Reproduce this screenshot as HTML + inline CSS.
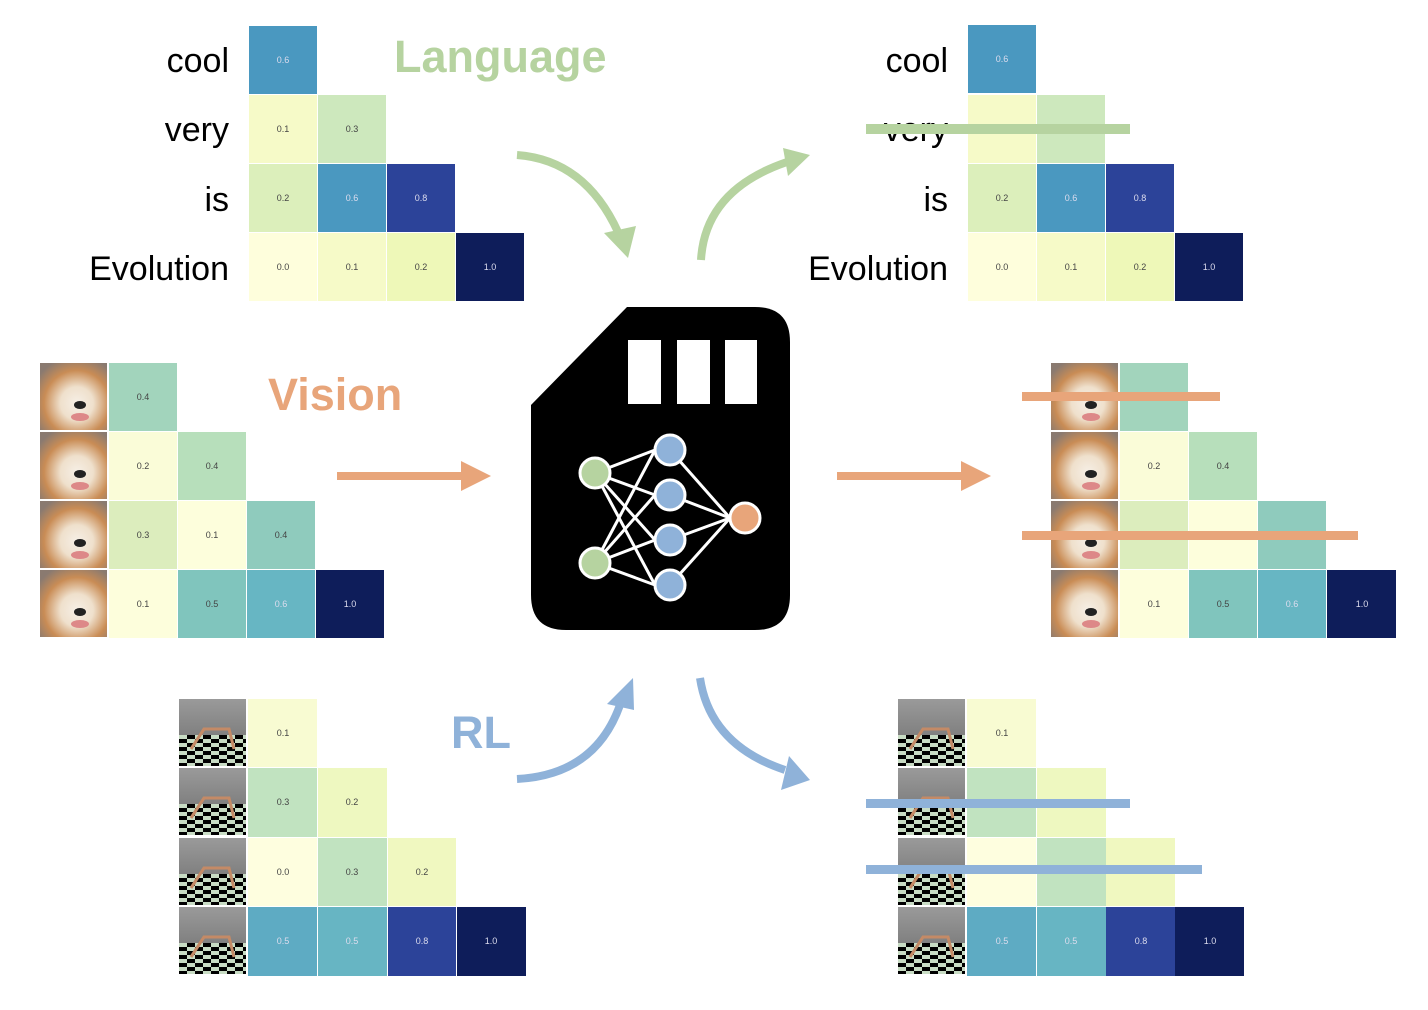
<!DOCTYPE html>
<html><head><meta charset="utf-8"><style>
html,body{margin:0;padding:0;background:#fff;width:1428px;height:1010px;overflow:hidden}
svg{display:block}
text{font-family:"Liberation Sans",sans-serif}
.v{font-size:9px;text-anchor:middle;dominant-baseline:central;fill:#444}
.w{font-size:9px;text-anchor:middle;dominant-baseline:central;fill:#dde}
.lab{font-size:34px;text-anchor:end;fill:#000}
</style></head><body>
<svg width="1428" height="1010" viewBox="0 0 1428 1010" xmlns="http://www.w3.org/2000/svg">
<defs>
<radialGradient id="dog" cx="0.55" cy="0.6" r="0.7">
<stop offset="0" stop-color="#f6efe6"/><stop offset="0.35" stop-color="#efe0cc"/><stop offset="0.7" stop-color="#c98c55"/><stop offset="1" stop-color="#8a7a70"/>
</radialGradient>
<pattern id="chk" width="16" height="8" patternUnits="userSpaceOnUse">
<rect width="16" height="8" fill="#c8dcc4"/><rect width="8" height="4" fill="#000"/><rect x="8" y="4" width="8" height="4" fill="#000"/>
</pattern>
<linearGradient id="sky" x1="0" y1="0" x2="0" y2="1"><stop offset="0" stop-color="#9a9a9a"/><stop offset="1" stop-color="#6a6a6a"/></linearGradient>
<g id="dogimg"><rect width="67" height="67" fill="url(#dog)"/><ellipse cx="40" cy="42" rx="6" ry="4" fill="#222"/><ellipse cx="40" cy="54" rx="9" ry="4" fill="#d88" /></g>
<g id="rlimg"><rect width="67" height="67" fill="url(#sky)"/><rect y="36" width="67" height="31" fill="url(#chk)"/><path d="M12 50 L25 30 L50 30 L55 50" stroke="#c48a66" stroke-width="3" fill="none"/></g>
</defs>

<!-- Language left -->
<g>
<text class="lab" x="229" y="72">cool</text>
<text class="lab" x="229" y="141">very</text>
<text class="lab" x="229" y="211">is</text>
<text class="lab" x="229" y="280">Evolution</text>
<rect x="249" y="26" width="68" height="68" fill="#4a98c0"/><text class="w" x="283" y="60">0.6</text>
<rect x="249" y="95" width="68" height="68" fill="#f6fac8"/><text class="v" x="283" y="129">0.1</text>
<rect x="318" y="95" width="68" height="68" fill="#cde8bd"/><text class="v" x="352" y="129">0.3</text>
<rect x="249" y="164" width="68" height="68" fill="#dcefbb"/><text class="v" x="283" y="198">0.2</text>
<rect x="318" y="164" width="68" height="68" fill="#4a98c0"/><text class="w" x="352" y="198">0.6</text>
<rect x="387" y="164" width="68" height="68" fill="#2c4399"/><text class="w" x="421" y="198">0.8</text>
<rect x="249" y="233" width="68" height="68" fill="#fefedc"/><text class="v" x="283" y="267">0.0</text>
<rect x="318" y="233" width="68" height="68" fill="#f6fac8"/><text class="v" x="352" y="267">0.1</text>
<rect x="387" y="233" width="68" height="68" fill="#eef8b8"/><text class="v" x="421" y="267">0.2</text>
<rect x="456" y="233" width="68" height="68" fill="#0e1d5a"/><text class="w" x="490" y="267">1.0</text>
</g>
<text x="394" y="72" font-size="45" font-weight="bold" fill="#b6d3a0">Language</text>

<!-- Language right -->
<g>
<text class="lab" x="948" y="72">cool</text>
<text class="lab" x="948" y="141">very</text>
<text class="lab" x="948" y="211">is</text>
<text class="lab" x="948" y="280">Evolution</text>
<rect x="968" y="25" width="68" height="68" fill="#4a98c0"/><text class="w" x="1002" y="59">0.6</text>
<rect x="968" y="95" width="68" height="68" fill="#f6fac8"/>
<rect x="1037" y="95" width="68" height="68" fill="#cde8bd"/>
<rect x="968" y="164" width="68" height="68" fill="#dcefbb"/><text class="v" x="1002" y="198">0.2</text>
<rect x="1037" y="164" width="68" height="68" fill="#4a98c0"/><text class="w" x="1071" y="198">0.6</text>
<rect x="1106" y="164" width="68" height="68" fill="#2c4399"/><text class="w" x="1140" y="198">0.8</text>
<rect x="968" y="233" width="68" height="68" fill="#fefedc"/><text class="v" x="1002" y="267">0.0</text>
<rect x="1037" y="233" width="68" height="68" fill="#f6fac8"/><text class="v" x="1071" y="267">0.1</text>
<rect x="1106" y="233" width="68" height="68" fill="#eef8b8"/><text class="v" x="1140" y="267">0.2</text>
<rect x="1175" y="233" width="68" height="68" fill="#0e1d5a"/><text class="w" x="1209" y="267">1.0</text>
<rect x="866" y="124" width="264" height="10" fill="#b6d3a0"/>
</g>

<!-- Vision left -->
<g>
<use href="#dogimg" x="40" y="363"/><use href="#dogimg" x="40" y="432"/><use href="#dogimg" x="40" y="501"/><use href="#dogimg" x="40" y="570"/>
<rect x="109" y="363" width="68" height="68" fill="#a2d4bc"/><text class="v" x="143" y="397">0.4</text>
<rect x="109" y="432" width="68" height="68" fill="#fafcd8"/><text class="v" x="143" y="466">0.2</text>
<rect x="178" y="432" width="68" height="68" fill="#b7dfbb"/><text class="v" x="212" y="466">0.4</text>
<rect x="109" y="501" width="68" height="68" fill="#dcedbd"/><text class="v" x="143" y="535">0.3</text>
<rect x="178" y="501" width="68" height="68" fill="#fdfedc"/><text class="v" x="212" y="535">0.1</text>
<rect x="247" y="501" width="68" height="68" fill="#8fcbbd"/><text class="v" x="281" y="535">0.4</text>
<rect x="109" y="570" width="68" height="68" fill="#fdfedc"/><text class="v" x="143" y="604">0.1</text>
<rect x="178" y="570" width="68" height="68" fill="#80c5bd"/><text class="v" x="212" y="604">0.5</text>
<rect x="247" y="570" width="68" height="68" fill="#67b6c3"/><text class="w" x="281" y="604">0.6</text>
<rect x="316" y="570" width="68" height="68" fill="#0e1d5a"/><text class="w" x="350" y="604">1.0</text>
</g>
<text x="268" y="410" font-size="45" font-weight="bold" fill="#e8a57a">Vision</text>

<!-- Vision right -->
<g>
<use href="#dogimg" x="1051" y="363"/><use href="#dogimg" x="1051" y="432"/><use href="#dogimg" x="1051" y="501"/><use href="#dogimg" x="1051" y="570"/>
<rect x="1120" y="363" width="68" height="68" fill="#a2d4bc"/>
<rect x="1120" y="432" width="68" height="68" fill="#fafcd8"/><text class="v" x="1154" y="466">0.2</text>
<rect x="1189" y="432" width="68" height="68" fill="#b7dfbb"/><text class="v" x="1223" y="466">0.4</text>
<rect x="1120" y="501" width="68" height="68" fill="#dcedbd"/>
<rect x="1189" y="501" width="68" height="68" fill="#fdfedc"/>
<rect x="1258" y="501" width="68" height="68" fill="#8fcbbd"/>
<rect x="1120" y="570" width="68" height="68" fill="#fdfedc"/><text class="v" x="1154" y="604">0.1</text>
<rect x="1189" y="570" width="68" height="68" fill="#80c5bd"/><text class="v" x="1223" y="604">0.5</text>
<rect x="1258" y="570" width="68" height="68" fill="#67b6c3"/><text class="w" x="1292" y="604">0.6</text>
<rect x="1327" y="570" width="69" height="68" fill="#0e1d5a"/><text class="w" x="1362" y="604">1.0</text>
<rect x="1022" y="392" width="198" height="9" fill="#e8a57a"/>
<rect x="1022" y="531" width="336" height="9" fill="#e8a57a"/>
</g>

<!-- RL left -->
<g>
<use href="#rlimg" x="179" y="699"/><use href="#rlimg" x="179" y="768"/><use href="#rlimg" x="179" y="838"/><use href="#rlimg" x="179" y="907"/>
<rect x="248" y="699" width="69" height="68" fill="#f8fbd2"/><text class="v" x="283" y="733">0.1</text>
<rect x="248" y="768" width="69" height="69" fill="#c1e3c0"/><text class="v" x="283" y="802">0.3</text>
<rect x="318" y="768" width="69" height="69" fill="#eef8c0"/><text class="v" x="352" y="802">0.2</text>
<rect x="248" y="838" width="69" height="68" fill="#fefedf"/><text class="v" x="283" y="872">0.0</text>
<rect x="318" y="838" width="69" height="68" fill="#c1e3c0"/><text class="v" x="352" y="872">0.3</text>
<rect x="388" y="838" width="68" height="68" fill="#f0f8c0"/><text class="v" x="422" y="872">0.2</text>
<rect x="248" y="907" width="69" height="69" fill="#5eabc3"/><text class="w" x="283" y="941">0.5</text>
<rect x="318" y="907" width="69" height="69" fill="#67b5c3"/><text class="w" x="352" y="941">0.5</text>
<rect x="388" y="907" width="68" height="69" fill="#2c4399"/><text class="w" x="422" y="941">0.8</text>
<rect x="457" y="907" width="69" height="69" fill="#0e1d5a"/><text class="w" x="491" y="941">1.0</text>
</g>
<text x="451" y="748" font-size="45" font-weight="bold" fill="#8fb2d9">RL</text>

<!-- RL right -->
<g>
<use href="#rlimg" x="898" y="699"/><use href="#rlimg" x="898" y="768"/><use href="#rlimg" x="898" y="838"/><use href="#rlimg" x="898" y="907"/>
<rect x="967" y="699" width="69" height="68" fill="#f8fbd2"/><text class="v" x="1002" y="733">0.1</text>
<rect x="967" y="768" width="69" height="69" fill="#c1e3c0"/>
<rect x="1037" y="768" width="69" height="69" fill="#eef8c0"/>
<rect x="967" y="838" width="69" height="68" fill="#fefedf"/>
<rect x="1037" y="838" width="69" height="68" fill="#c1e3c0"/>
<rect x="1106" y="838" width="69" height="68" fill="#f0f8c0"/>
<rect x="967" y="907" width="69" height="69" fill="#5eabc3"/><text class="w" x="1002" y="941">0.5</text>
<rect x="1037" y="907" width="69" height="69" fill="#67b5c3"/><text class="w" x="1071" y="941">0.5</text>
<rect x="1106" y="907" width="69" height="69" fill="#2c4399"/><text class="w" x="1141" y="941">0.8</text>
<rect x="1175" y="907" width="69" height="69" fill="#0e1d5a"/><text class="w" x="1210" y="941">1.0</text>
<rect x="866" y="799" width="264" height="9" fill="#8fb2d9"/>
<rect x="866" y="865" width="336" height="9" fill="#8fb2d9"/>
</g>

<!-- Arrows -->
<path d="M517 155 Q585 160 618 232" stroke="#b6d3a0" stroke-width="8" fill="none"/>
<polygon points="604,233 636,226 628,258" fill="#b6d3a0"/>
<path d="M701 260 Q705 190 787 162" stroke="#b6d3a0" stroke-width="8" fill="none"/>
<polygon points="783,148 810,155 788,176" fill="#b6d3a0"/>
<rect x="337" y="472" width="126" height="8" fill="#e8a57a"/>
<polygon points="461,461 491,476 461,491" fill="#e8a57a"/>
<rect x="837" y="472" width="126" height="8" fill="#e8a57a"/>
<polygon points="961,461 991,476 961,491" fill="#e8a57a"/>
<path d="M517 779 Q595 775 620 705" stroke="#8fb2d9" stroke-width="8" fill="none"/>
<polygon points="607,704 633,678 634,710" fill="#8fb2d9"/>
<path d="M700 678 Q710 745 785 770" stroke="#8fb2d9" stroke-width="8" fill="none"/>
<polygon points="789,756 810,780 781,790" fill="#8fb2d9"/>

<!-- Chip -->
<path d="M627 307 L755 307 Q790 307 790 342 L790 595 Q790 630 755 630 L566 630 Q531 630 531 595 L531 405 Z" fill="#000"/>
<rect x="628" y="340" width="33" height="64" fill="#fff"/>
<rect x="677" y="340" width="33" height="64" fill="#fff"/>
<rect x="725" y="340" width="32" height="64" fill="#fff"/>
<g stroke="#fff" stroke-width="3">
<line x1="595" y1="473" x2="655" y2="450"/><line x1="595" y1="473" x2="655" y2="495"/><line x1="595" y1="473" x2="655" y2="540"/><line x1="595" y1="473" x2="655" y2="585"/>
<line x1="595" y1="563" x2="655" y2="450"/><line x1="595" y1="563" x2="655" y2="495"/><line x1="595" y1="563" x2="655" y2="540"/><line x1="595" y1="563" x2="655" y2="585"/>
<line x1="670" y1="450" x2="730" y2="518"/><line x1="670" y1="495" x2="730" y2="518"/><line x1="670" y1="540" x2="730" y2="518"/><line x1="670" y1="585" x2="730" y2="518"/>
</g>
<g stroke="#fff" stroke-width="3">
<circle cx="595" cy="473" r="15" fill="#b6d3a0"/><circle cx="595" cy="563" r="15" fill="#b6d3a0"/>
<circle cx="670" cy="450" r="15" fill="#8fb2d9"/><circle cx="670" cy="495" r="15" fill="#8fb2d9"/><circle cx="670" cy="540" r="15" fill="#8fb2d9"/><circle cx="670" cy="585" r="15" fill="#8fb2d9"/>
<circle cx="745" cy="518" r="15" fill="#e8a57a"/>
</g>
</svg>
</body></html>
